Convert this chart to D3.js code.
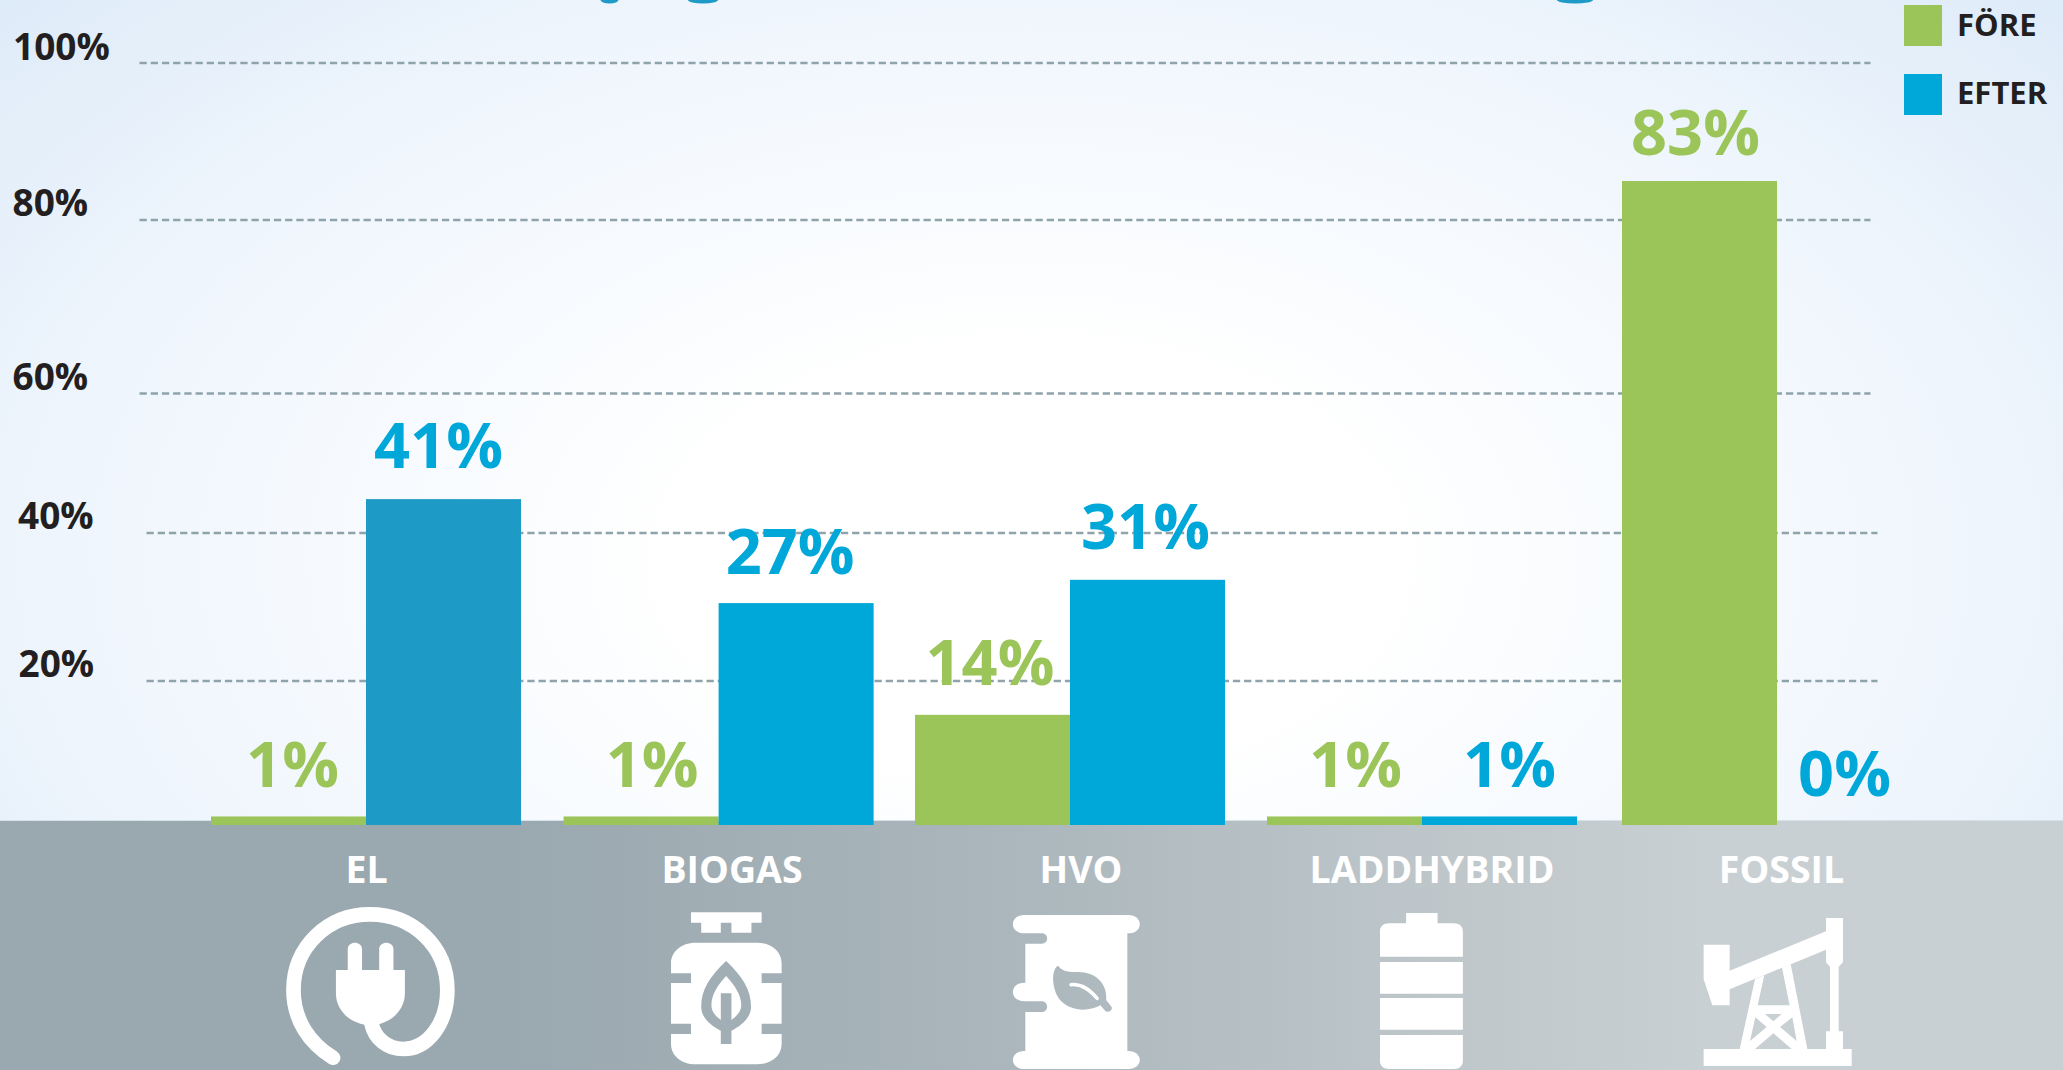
<!DOCTYPE html>
<html>
<head>
<meta charset="utf-8">
<script src="https://cdn.jsdelivr.net/npm/d3@7"></script>
<style>
  html, body { margin: 0; padding: 0; background: #fff; }
  svg { display: block; }
  text { font-family: "Open Sans", sans-serif; font-weight: 700; }
</style>
</head>
<body>
<svg id="chart"></svg>
<script>
const categories = ["EL", "BIOGAS", "HVO", "LADDHYBRID", "FOSSIL"];
const groups = ["FÖRE", "EFTER"];

// printed percentages
const foreLabels = [1, 1, 14, 1, 83];
const efterLabels = [41, 27, 31, 1, 0];

// bar heights, they don't quite follow the printed numbers
const foreBars = [1.1, 1.1, 14.2, 1.1, 83];
const efterBars = [42, 28.6, 31.6, 1.1, 0];

const tickValues = [20, 40, 60, 80, 100];

const W = 2063, H = 1070;
const baseY = 825, bandY = 821;
const green = "#9bc459", blue = "#00a7d9", blueDark = "#1d9bc6", ink = "#231f20";

const svg = d3.select("#chart").attr("width", W).attr("height", H);
const defs = svg.append("defs");

// background gradients
const bg = defs.append("radialGradient").attr("id", "bg")
  .attr("gradientUnits", "userSpaceOnUse")
  .attr("cx", 0).attr("cy", 0).attr("r", 1390)
  .attr("gradientTransform", "translate(1030,560) scale(1,0.6)");
bg.append("stop").attr("offset", "0.25").attr("stop-color", "#ffffff");
bg.append("stop").attr("offset", "0.67").attr("stop-color", "#f0f6fd");
bg.append("stop").attr("offset", "1").attr("stop-color", "#deebf8");

const band = defs.append("linearGradient").attr("id", "band")
  .attr("gradientUnits", "userSpaceOnUse")
  .attr("x1", 0).attr("x2", W).attr("y1", 0).attr("y2", 0);
band.append("stop").attr("offset", "0.25").attr("stop-color", "#9aa8af");
band.append("stop").attr("offset", "0.465").attr("stop-color", "#a9b5bb");
band.append("stop").attr("offset", "0.775").attr("stop-color", "#c5cccf");
band.append("stop").attr("offset", "0.83").attr("stop-color", "#c9d0d3");

svg.append("rect").attr("width", W).attr("height", H).attr("fill", "url(#bg)");

// what's left of the cropped title
const titleBits = [[609.5, 0, 9, 3.5], [703, 0, 15, 3.5], [1575, 0, 18, 3.5]];
svg.append("g").selectAll("ellipse").data(titleBits).enter().append("ellipse")
  .attr("cx", d => d[0]).attr("cy", d => d[1])
  .attr("rx", d => d[2]).attr("ry", d => d[3])
  .attr("fill", "#1d9bc6");

svg.append("rect").attr("y", bandY).attr("width", W).attr("height", H - bandY).attr("fill", "url(#band)");
svg.append("rect").attr("y", bandY - 1).attr("width", W).attr("height", 1).attr("fill", "#d5e2ea");

// scales
const x0 = d3.scaleBand(categories, [211, 1931.4]).paddingInner(0.1208);
const x1 = d3.scaleBand(groups, [0, x0.bandwidth()]);
const yBar = d3.scaleLinear([0, 83], [baseY, 181]);
// the printed gridlines are unevenly spaced
const yGrid = d3.scaleLinear([20, 40, 60, 80, 100], [681, 533, 393.5, 220, 63]);

// gridlines + tick labels
const gridLeft = { 20: 146.5, 40: 146.5, 60: 139.5, 80: 139.5, 100: 139.5 };
const tickX = { 20: 18.5, 40: 18, 60: 12.5, 80: 12.5, 100: 13 };
const tickBase = { 20: 677, 40: 529, 60: 390, 80: 216, 100: 59.5 };

svg.append("g").selectAll("line").data(tickValues).enter().append("line")
  .attr("x1", d => gridLeft[d])
  .attr("x2", d => gridLeft[d] + 1731)
  .attr("y1", d => yGrid(d)).attr("y2", d => yGrid(d))
  .attr("stroke", "#8fa3aa").attr("stroke-width", 2.5)
  .attr("stroke-dasharray", "7.3 3.9");

svg.append("g").selectAll("text").data(tickValues).enter().append("text")
  .attr("x", d => tickX[d]).attr("y", d => tickBase[d])
  .attr("font-size", 37).attr("fill", ink)
  .text(d => d + "%");

// bars
const rows = categories.map((c, i) => ({
  cat: c, i,
  vals: [
    { g: "FÖRE", bar: foreBars[i], label: foreLabels[i] },
    { g: "EFTER", bar: efterBars[i], label: efterLabels[i] }
  ]
}));

const barColor = (d, i) => d.g === "FÖRE" ? green : (i === 0 ? blueDark : blue);

// groups are not quite evenly spaced in the original
const groupShift = [0, 0, -1.2, -1.8, 0.6];

const groupG = svg.append("g").selectAll("g").data(rows).enter().append("g")
  .attr("transform", d => `translate(${x0(d.cat) + groupShift[d.i]},0)`);

groupG.selectAll("rect").data(d => d.vals.map(v => ({ ...v, i: d.i }))).enter().append("rect")
  .attr("x", d => x1(d.g))
  .attr("y", d => yBar(d.bar))
  .attr("width", x1.bandwidth())
  .attr("height", d => baseY - yBar(d.bar))
  .attr("fill", d => barColor(d, d.i));

// value labels sit a bit off the bar centres in the original
const foreNudge = [[4, 29], [11, 29], [-2.5, 30], [11, 29], [-4, 26]];
const efterNudge = [[-5, 31], [-6, 29], [-2, 31], [10, 29], [-10, 29]];

groupG.selectAll("text").data(d => d.vals.map(v => ({ ...v, i: d.i }))).enter().append("text")
  .attr("x", d => x1(d.g) + x1.bandwidth() / 2 + (d.g === "FÖRE" ? foreNudge : efterNudge)[d.i][0])
  .attr("y", d => yBar(d.bar) - (d.g === "FÖRE" ? foreNudge : efterNudge)[d.i][1])
  .attr("text-anchor", "middle")
  .attr("font-size", 63)
  .attr("fill", d => d.g === "FÖRE" ? green : blue)
  .text(d => d.label + "%");

// category names
const catX = [366.5, 732, 1081, 1432, 1781.5];
svg.append("g").selectAll("text").data(categories).enter().append("text")
  .attr("x", (d, i) => catX[i]).attr("y", 883)
  .attr("text-anchor", "middle")
  .attr("font-size", 37.5).attr("fill", "#fff")
  .text(d => d);

// legend
const legendY = [5, 74];
const legend = svg.append("g").selectAll("g").data(groups).enter().append("g");
legend.append("rect")
  .attr("x", 1904).attr("y", (d, i) => legendY[i])
  .attr("width", 38).attr("height", 41)
  .attr("fill", (d, i) => i ? blue : green);
legend.append("text")
  .attr("x", 1957).attr("y", (d, i) => legendY[i] + (i ? 30 : 31))
  .attr("font-size", 31).attr("fill", ink)
  .text(d => d);

// icons, traced in the coordinates of the enlarged crops
const iconEl = svg.append("g").attr("transform", "translate(240,780) scale(0.40816,0.33333)");
iconEl.append("path")
  .attr("d", "M228,833 C170,790 131,720 131,630 C131,500 215,403 318,403 C425,403 508,500 508,630 C508,730 460,807 400,807 C360,807 330,775 322,730")
  .attr("fill", "none").attr("stroke", "#fff").attr("stroke-width", 14.7)
  .attr("stroke-linecap", "round").attr("vector-effect", "non-scaling-stroke");
iconEl.append("path")
  .attr("d", "M235,570 H264 V508 C264,482 299,482 299,508 V570 H341 V508 C341,482 376,482 376,508 V570 H404 V640 C404,695 365,735 320,735 C274,735 235,695 235,640 Z")
  .attr("fill", "#fff");

const iconGas = svg.append("g").attr("transform", "translate(240,780) scale(0.40816,0.33333)");
iconGas.append("path")
  .attr("d", "M1105,397 H1278 V428 H1253 V458 H1204 V428 H1178 V458 H1130 V428 H1105 Z")
  .attr("fill", "#fff");
iconGas.append("path")
  .attr("fill-rule", "evenodd").attr("fill", "#fff")
  .attr("d", "M1116,488 H1267 C1302,488 1327,515 1327,550 V580 H1278 V609 H1327 V731 H1278 V762 H1327 V792 C1327,827 1302,853 1267,853 H1116 C1081,853 1056,827 1056,792 V762 H1105 V731 H1056 V609 H1105 V580 H1056 V550 C1056,515 1081,488 1116,488 Z " +
    "M1191,543 C1150,590 1130,630 1130,680 C1130,710 1150,735 1178,752 V792 H1204 V752 C1232,735 1252,710 1252,680 C1252,630 1232,590 1191,543 Z " +
    "M1191,588 C1170,615 1155,645 1155,675 C1155,695 1165,708 1178,720 V640 H1204 V720 C1217,708 1228,695 1228,675 C1228,645 1212,615 1191,588 Z");

const iconHvo = svg.append("g").attr("transform", "translate(960,780) scale(0.40816,0.33333)");
iconHvo.append("path")
  .attr("fill-rule", "evenodd").attr("fill", "#fff")
  .attr("d", "M158,405 H412 C450,405 450,460 412,460 H410 V813 H412 C450,813 450,867 412,867 H158 C120,867 120,813 158,813 H160 V696 H200 C218,696 218,664 200,664 H158 C120,664 120,608 158,608 H160 V491 H200 C218,491 218,460 200,460 H158 C120,460 120,405 158,405 Z " +
    "M240,557 C250,572 262,577 290,576 C335,576 362,615 358,660 L371,680 C376,692 360,702 354,690 L344,676 C310,698 270,692 245,660 C225,630 222,570 240,557 Z");
iconHvo.append("path")
  .attr("d", "M272,614 C300,612 318,630 336,655")
  .attr("fill", "none").attr("stroke", "#fff").attr("stroke-width", 3.5)
  .attr("stroke-linecap", "round").attr("vector-effect", "non-scaling-stroke");

const iconBat = svg.append("g").attr("transform", "translate(960,780) scale(0.40816,0.33333)");
iconBat.append("path").attr("fill", "#fff")
  .attr("d", "M1093,399 H1170 V430 H1210 C1224,430 1232,440 1232,454 V530 H1029 V454 C1029,440 1037,430 1051,430 H1093 Z " +
    "M1029,546 H1232 V641 H1029 Z M1029,654 H1232 V749 H1029 Z " +
    "M1029,765 H1232 V843 C1232,857 1224,867 1210,867 H1051 C1037,867 1029,857 1029,843 Z");

const iconOil = svg.append("g").attr("transform", "translate(1600,780) scale(0.33333)");
iconOil.append("path").attr("fill", "#fff")
  .attr("d", "M311,807 H755 V858 H311 Z " +
    "M311,494 H389 V572 L678,454 V414 H729 V547 L716,560 V754 H729 V807 H678 V754 H690 V560 L678,547 V509 L389,628 V676 H337 L311,598 Z");
iconOil.append("path").attr("fill", "#fff").attr("fill-rule", "evenodd")
  .attr("d", "M465,598 L419,807 H622 L572,552 L546,563 L569,676 H473 L493,585 Z " +
    "M495,702 H545 L520,724 Z M466,712 L500,741 L450,783 Z M577,712 L590,783 L540,741 Z M465,807 L520,760 L575,807 Z");
</script>
</body>
</html>
